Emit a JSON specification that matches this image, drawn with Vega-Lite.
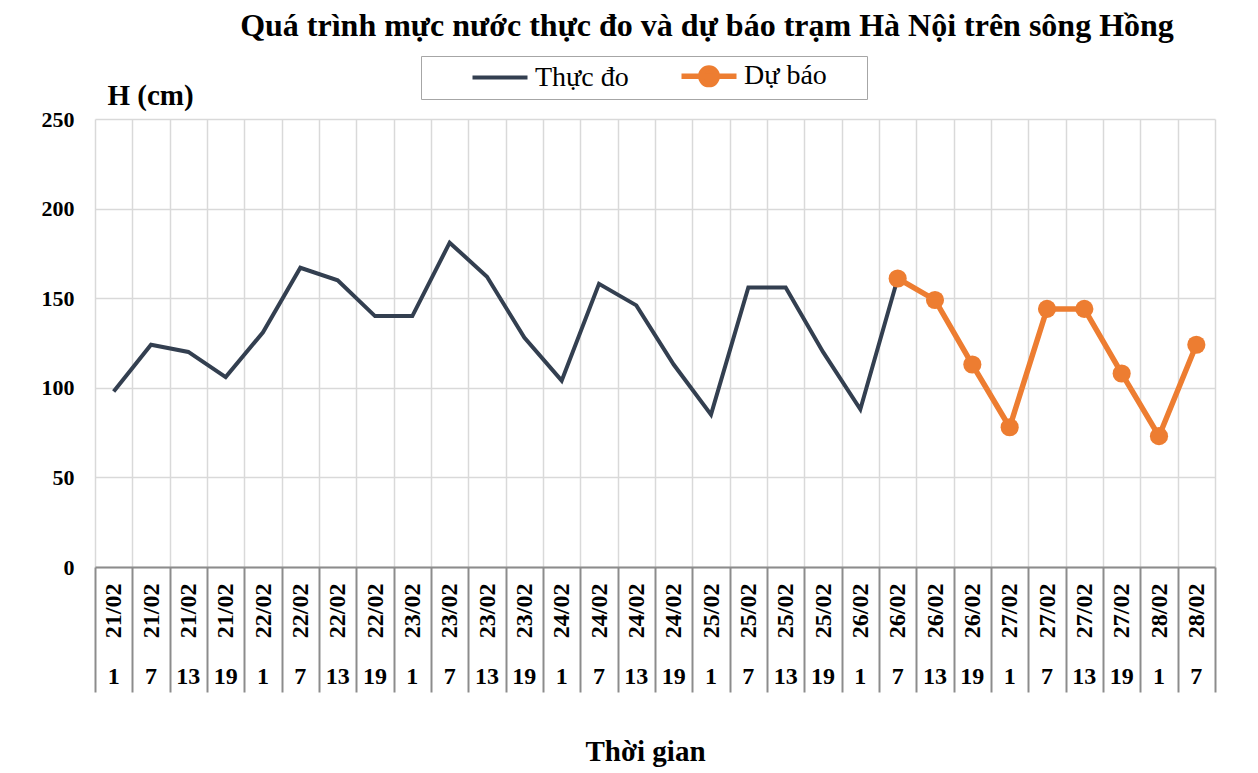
{
  "$schema": "https://vega.github.io/schema/vega-lite/v6.json",
  "width": 1120,
  "height": 448,
  "autosize": {"type": "none"},
  "padding": {"left": 95, "top": 119, "right": 43, "bottom": 206},
  "background": "white",
  "title": {
    "text": "Quá trình mực nước thực đo và dự báo trạm Hà Nội trên sông Hồng",
    "font": "Liberation Serif",
    "fontSize": 32,
    "fontWeight": "bold",
    "color": "#000000",
    "anchor": "middle",
    "dx": 52,
    "offset": 13
  },
  "config": {
    "view": {"stroke": null},
    "axis": {"labelFont": "Liberation Serif", "titleFont": "Liberation Serif", "labelColor": "#000000", "titleColor": "#000000"}
  },
  "datasets": {
    "h": [
      {"t": "21/02 1", "series": "Thực đo", "h": 98},
      {"t": "21/02 7", "series": "Thực đo", "h": 124},
      {"t": "21/02 13", "series": "Thực đo", "h": 120},
      {"t": "21/02 19", "series": "Thực đo", "h": 106},
      {"t": "22/02 1", "series": "Thực đo", "h": 131},
      {"t": "22/02 7", "series": "Thực đo", "h": 167},
      {"t": "22/02 13", "series": "Thực đo", "h": 160},
      {"t": "22/02 19", "series": "Thực đo", "h": 140},
      {"t": "23/02 1", "series": "Thực đo", "h": 140},
      {"t": "23/02 7", "series": "Thực đo", "h": 181},
      {"t": "23/02 13", "series": "Thực đo", "h": 162},
      {"t": "23/02 19", "series": "Thực đo", "h": 128},
      {"t": "24/02 1", "series": "Thực đo", "h": 104},
      {"t": "24/02 7", "series": "Thực đo", "h": 158},
      {"t": "24/02 13", "series": "Thực đo", "h": 146},
      {"t": "24/02 19", "series": "Thực đo", "h": 113},
      {"t": "25/02 1", "series": "Thực đo", "h": 85},
      {"t": "25/02 7", "series": "Thực đo", "h": 156},
      {"t": "25/02 13", "series": "Thực đo", "h": 156},
      {"t": "25/02 19", "series": "Thực đo", "h": 120},
      {"t": "26/02 1", "series": "Thực đo", "h": 88},
      {"t": "26/02 7", "series": "Thực đo", "h": 161},
      {"t": "26/02 7", "series": "Dự báo", "h": 161},
      {"t": "26/02 13", "series": "Dự báo", "h": 149},
      {"t": "26/02 19", "series": "Dự báo", "h": 113},
      {"t": "27/02 1", "series": "Dự báo", "h": 78},
      {"t": "27/02 7", "series": "Dự báo", "h": 144},
      {"t": "27/02 13", "series": "Dự báo", "h": 144},
      {"t": "27/02 19", "series": "Dự báo", "h": 108},
      {"t": "28/02 1", "series": "Dự báo", "h": 73},
      {"t": "28/02 7", "series": "Dự báo", "h": 124}
    ],
    "cats": [
      {"t": "21/02 1"}, {"t": "21/02 7"}, {"t": "21/02 13"}, {"t": "21/02 19"},
      {"t": "22/02 1"}, {"t": "22/02 7"}, {"t": "22/02 13"}, {"t": "22/02 19"},
      {"t": "23/02 1"}, {"t": "23/02 7"}, {"t": "23/02 13"}, {"t": "23/02 19"},
      {"t": "24/02 1"}, {"t": "24/02 7"}, {"t": "24/02 13"}, {"t": "24/02 19"},
      {"t": "25/02 1"}, {"t": "25/02 7"}, {"t": "25/02 13"}, {"t": "25/02 19"},
      {"t": "26/02 1"}, {"t": "26/02 7"}, {"t": "26/02 13"}, {"t": "26/02 19"},
      {"t": "27/02 1"}, {"t": "27/02 7"}, {"t": "27/02 13"}, {"t": "27/02 19"},
      {"t": "28/02 1"}, {"t": "28/02 7"}
    ]
  },
  "resolve": {"scale": {"x": "independent"}, "axis": {"x": "independent"}},
  "layer": [
    {
      "data": {"name": "cats"},
      "mark": {"type": "tick", "opacity": 0},
      "encoding": {
        "x": {
          "field": "t", "type": "nominal", "sort": null,
          "scale": {"paddingInner": 0, "paddingOuter": 0},
          "axis": {
            "orient": "bottom",
            "labelExpr": "split(datum.label, ' ')[0]",
            "labelAngle": -90,
            "labelFontSize": 24,
            "labelFontWeight": "bold",
            "labelPadding": -109,
            "labelLimit": 200,
            "tickBand": "extent",
            "tickSize": 125,
            "tickWidth": 2,
            "tickColor": "#8c8c8c",
            "domainColor": "#8c8c8c",
            "domainWidth": 2,
            "grid": true,
            "gridColor": "#d9d9d9",
            "gridWidth": 1.5,
            "title": null
          }
        }
      }
    },
    {
      "data": {"name": "cats"},
      "mark": {"type": "tick", "opacity": 0},
      "encoding": {
        "x": {
          "field": "t", "type": "nominal", "sort": null,
          "scale": {"paddingInner": 0, "paddingOuter": 0},
          "axis": {
            "orient": "bottom",
            "offset": 95,
            "labelExpr": "split(datum.label, ' ')[1]",
            "labelAngle": 0,
            "labelFontSize": 24,
            "labelFontWeight": "bold",
            "labelPadding": 2,
            "labelBaseline": "top",
            "ticks": false,
            "domain": false,
            "grid": false,
            "title": "Thời gian",
            "titleFontSize": 29,
            "titleFontWeight": "bold",
            "titlePadding": 49,
            "titleX": 550
          }
        }
      }
    },
    {
      "data": {"name": "h"},
      "mark": {"type": "line", "strokeJoin": "miter"},
      "encoding": {
        "x": {
          "field": "t", "type": "nominal", "sort": null,
          "scale": {"domain": ["21/02 1", "21/02 7", "21/02 13", "21/02 19", "22/02 1", "22/02 7", "22/02 13", "22/02 19", "23/02 1", "23/02 7", "23/02 13", "23/02 19", "24/02 1", "24/02 7", "24/02 13", "24/02 19", "25/02 1", "25/02 7", "25/02 13", "25/02 19", "26/02 1", "26/02 7", "26/02 13", "26/02 19", "27/02 1", "27/02 7", "27/02 13", "27/02 19", "28/02 1", "28/02 7"], "paddingInner": 0, "paddingOuter": 0},
          "axis": null
        },
        "y": {
          "field": "h", "type": "quantitative",
          "scale": {"domain": [0, 250], "nice": false},
          "axis": {
            "values": [0, 50, 100, 150, 200, 250],
            "labelFontSize": 22,
            "labelFontWeight": "bold",
            "labelPadding": 21,
            "ticks": false,
            "domain": false,
            "grid": true,
            "gridColor": "#d9d9d9",
            "gridWidth": 1.5,
            "title": "H (cm)",
            "titleFontSize": 29,
            "titleFontWeight": "bold",
            "titleAngle": 0,
            "titleAlign": "left",
            "titleBaseline": "alphabetic",
            "titleX": 12,
            "titleY": -15
          }
        },
        "color": {
          "field": "series", "type": "nominal",
          "scale": {"domain": ["Thực đo", "Dự báo"], "range": ["#333f50", "#ed7d31"]},
          "legend": {
            "orient": "none",
            "legendX": 326,
            "legendY": -63,
            "direction": "horizontal",
            "title": "\u00a0",
            "titleOrient": "right",
            "titlePadding": 37,
            "titleFontSize": 10,
            "labelFont": "Liberation Serif",
            "labelFontSize": 28,
            "labelColor": "#000000",
            "labelOffset": 21,
            "symbolSize": 484,
            "symbolOffset": 62,
            "columnPadding": 4,
            "padding": 3,
            "strokeColor": "#a6a6a6",
            "fillColor": "white",
            "encode": {
              "labels": {
                "update": {
                  "dy": {"signal": "datum.value == 'Dự báo' ? 3 : 0"}
                }
              },
              "symbols": {
                "update": {
                  "shape": {"signal": "datum.value == 'Thực đo' ? 'M-2.5,0H2.5' : 'M-2.5,0.27H2.5M-0.75,0.27A0.75,0.75 0 1,0 0.75,0.27A0.75,0.75 0 1,0 -0.75,0.27'"},
                  "fill": {"signal": "datum.value == 'Thực đo' ? 'transparent' : '#ed7d31'"},
                  "stroke": {"signal": "datum.value == 'Thực đo' ? '#333f50' : '#ed7d31'"},
                  "strokeWidth": {"value": 5},
                  "opacity": {"value": 1}
                }
              }
            }
          }
        },
        "strokeWidth": {
          "field": "series", "type": "nominal",
          "scale": {"domain": ["Thực đo", "Dự báo"], "range": [4, 5.5]},
          "legend": null
        }
      }
    },
    {
      "data": {"name": "h"},
      "transform": [{"filter": "datum.series == 'Dự báo'"}],
      "mark": {"type": "point", "filled": true, "opacity": 1, "size": 330},
      "encoding": {
        "x": {
          "field": "t", "type": "nominal", "sort": null,
          "scale": {"domain": ["21/02 1", "21/02 7", "21/02 13", "21/02 19", "22/02 1", "22/02 7", "22/02 13", "22/02 19", "23/02 1", "23/02 7", "23/02 13", "23/02 19", "24/02 1", "24/02 7", "24/02 13", "24/02 19", "25/02 1", "25/02 7", "25/02 13", "25/02 19", "26/02 1", "26/02 7", "26/02 13", "26/02 19", "27/02 1", "27/02 7", "27/02 13", "27/02 19", "28/02 1", "28/02 7"], "paddingInner": 0, "paddingOuter": 0},
          "axis": null
        },
        "y": {"field": "h", "type": "quantitative"},
        "color": {"field": "series", "type": "nominal"}
      }
    }
  ]
}
